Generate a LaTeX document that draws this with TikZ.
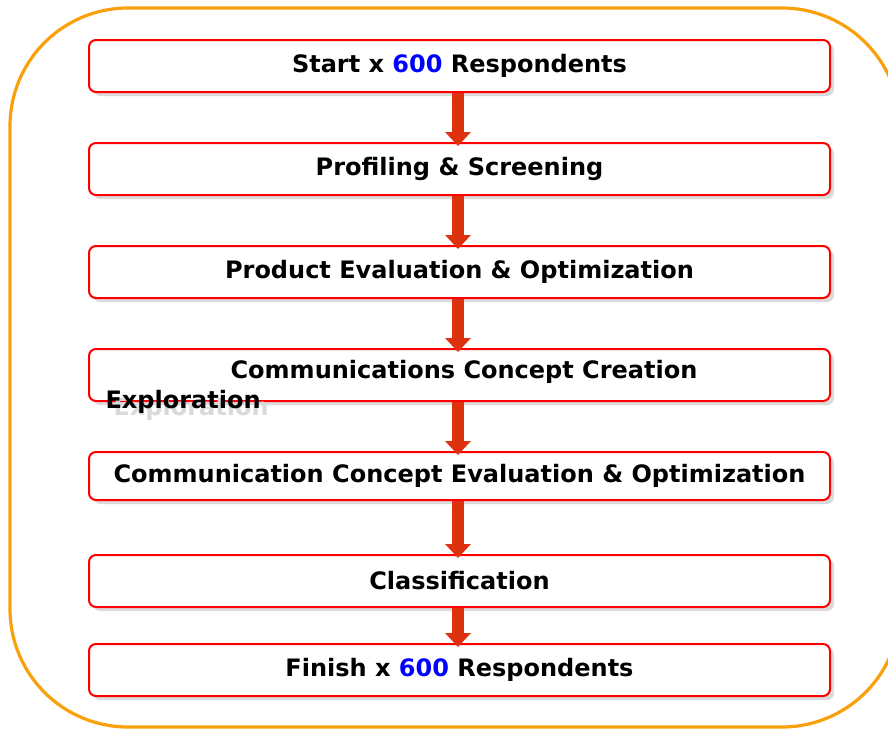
\documentclass[tikz,border=0pt]{standalone}
\usepackage{fontspec}
\setmainfont{DejaVu Sans}
\usepackage{tikz}
\usetikzlibrary{shadows}
\usetikzlibrary{arrows.meta}
\usetikzlibrary{positioning}
\definecolor{framecol}{RGB}{250,160,10}
\definecolor{flowcol}{RGB}{222,50,15}
\tikzstyle{caption} = [font=\bfseries\fontsize{24}{27}\selectfont]
\tikzstyle{stage} = [caption, draw=red, line width=2pt, fill=white, rounded corners=7pt,
    minimum width=741pt, minimum height=52pt,
    drop shadow={shadow xshift=4pt, shadow yshift=-4pt, fill=black!14, opacity=1}]
\tikzstyle{flow} = [draw=flowcol, line width=12pt, -{Triangle[width=25pt,length=14pt]}, shorten >=-4pt]

\begin{document}
\begin{tikzpicture}[x=1pt, y=-1pt]
    \useasboundingbox (0,0) rectangle (888,729);
    \draw[framecol, line width=3.2pt, rounded corners=118pt] (10,8) rectangle (900,727);

    \node[stage] at (459.5,66) (start) {Start x \textcolor{blue}{600} Respondents};
    \node[stage] at (459.5,169) (profile) {Profiling \& Screening};
    \node[stage] at (459.5,272) (product) {Product Evaluation \& Optimization};
    \node[stage] at (459.5,375) (concept) {};
    \node[caption] at (464,372) (conceptA) {Communications Concept Creation};
    \node[caption, anchor=base west, text=black!15] at (110,415) (conceptC) {Exploration};
    \node[caption, anchor=base west] at (102,408) (conceptB) {Exploration};
    \node[stage, minimum height=48pt] at (459.5,476) (evaluation) {Communication Concept Evaluation \& Optimization};
    \node[stage] at (459.5,581) (classify) {Classification};
    \node[stage] at (459.5,670) (finish) {Finish x \textcolor{blue}{600} Respondents};

    \draw[flow] ([xshift=-1.5pt]start.south) -- ([xshift=-1.5pt]profile.north);
    \draw[flow] ([xshift=-1.5pt]profile.south) -- ([xshift=-1.5pt]product.north);
    \draw[flow] ([xshift=-1.5pt]product.south) -- ([xshift=-1.5pt]concept.north);
    \draw[flow] ([xshift=-1.5pt]concept.south) -- ([xshift=-1.5pt]evaluation.north);
    \draw[flow] ([xshift=-1.5pt]evaluation.south) -- ([xshift=-1.5pt]classify.north);
    \draw[flow] ([xshift=-1.5pt]classify.south) -- ([xshift=-1.5pt]finish.north);
\end{tikzpicture}
\end{document}
